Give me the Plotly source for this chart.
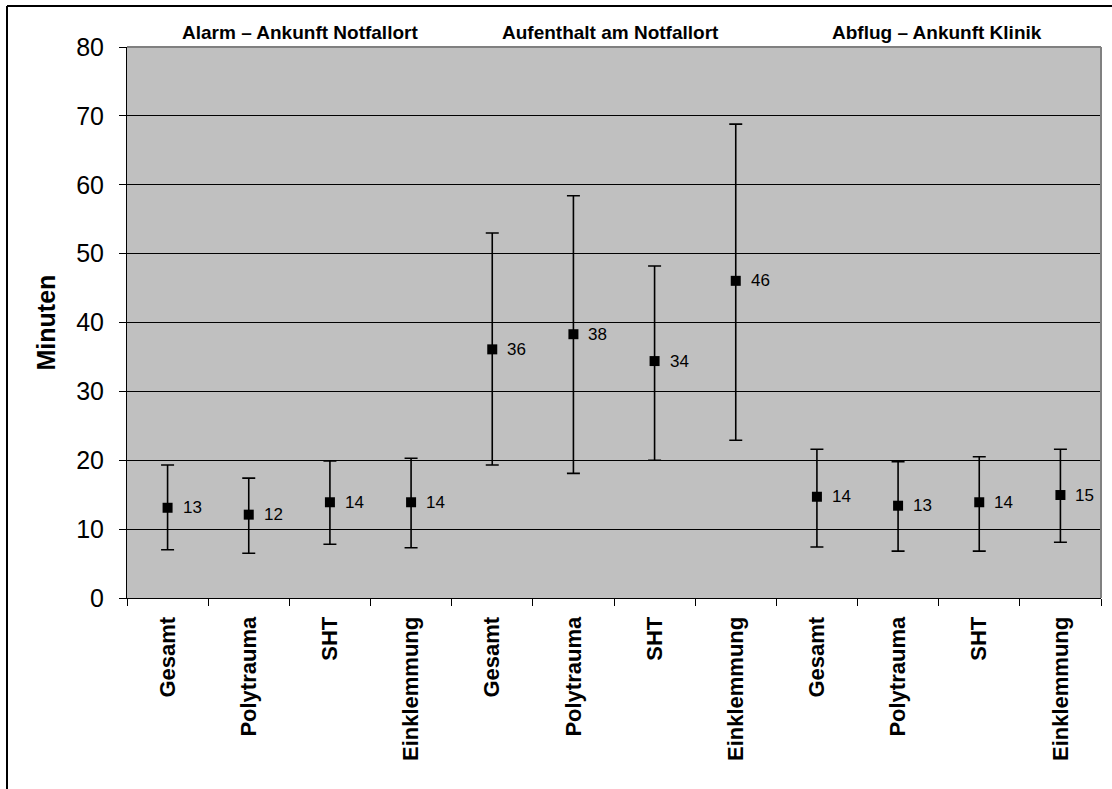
import plotly.graph_objects as go

categories = ["Gesamt", "Polytrauma", "SHT", "Einklemmung",
              "Gesamt", "Polytrauma", "SHT", "Einklemmung",
              "Gesamt", "Polytrauma", "SHT", "Einklemmung"]
means = [13.1, 12.1, 13.9, 13.9, 36.1, 38.3, 34.4, 46.05, 14.7, 13.4, 13.9, 14.95]
upper = [19.3, 17.4, 19.9, 20.3, 53.0, 58.4, 48.2, 68.8, 21.6, 19.8, 20.5, 21.6]
lower = [7.0, 6.5, 7.8, 7.3, 19.3, 18.1, 20.0, 22.9, 7.4, 6.8, 6.8, 8.1]
value_labels = ["13", "12", "14", "14", "36", "38", "34", "46", "14", "13", "14", "15"]
group_titles = ["Alarm – Ankunft Notfallort", "Aufenthalt am Notfallort", "Abflug – Ankunft Klinik"]
y_ticks = [0, 10, 20, 30, 40, 50, 60, 70, 80]

FONT = "Liberation Sans, Arial, sans-serif"
NARROW = "Liberation Sans Narrow, Arial Narrow, Liberation Sans, Arial, sans-serif"

xs = list(range(len(categories)))
err_plus = [u - m for u, m in zip(upper, means)]
err_minus = [m - l for m, l in zip(means, lower)]

fig = go.Figure()
fig.add_trace(go.Scatter(
    x=xs, y=means, mode="markers",
    marker=dict(symbol="square", size=10, color="black"),
    error_y=dict(type="data", symmetric=False, array=err_plus, arrayminus=err_minus,
                 color="black", thickness=1.6, width=6.5),
    showlegend=False, hoverinfo="skip",
))
# invisible trace to host tick marks at category boundaries
fig.add_trace(go.Scatter(x=[-0.5, len(categories) - 0.5], y=[None, None], xaxis="x2",
                         showlegend=False, hoverinfo="skip"))

annotations = []
for x, m, t in zip(xs, means, value_labels):
    annotations.append(dict(x=x, y=m, xref="x", yref="y", text=t, showarrow=False,
                            xanchor="left", yanchor="middle", xshift=13,
                            font=dict(family=NARROW, size=17, color="black")))

n_per_group = 4
for g, title in enumerate(group_titles):
    cx = g * n_per_group + (n_per_group - 1) / 2
    annotations.append(dict(x=cx, y=1, xref="x", yref="paper", text=f"<b>{title}</b>",
                            showarrow=False, xanchor="center", yanchor="middle", yshift=15,
                            xshift=[11, -4, -2][g],
                            font=dict(family=FONT, size=19, color="black")))

annotations.append(dict(x=0, y=0.5, xref="paper", yref="paper", text="<b>Minuten</b>",
                        showarrow=False, textangle=-90, xanchor="center", yanchor="middle",
                        xshift=-82, font=dict(family=FONT, size=25, color="black")))

L, R, T, B = 127, 11, 47, 191
W, H = 1112, 789
pw, ph = W - L - R, H - T - B

shapes = [
    # plot area top/right border (gray)
    dict(type="line", xref="paper", yref="paper", x0=0, x1=1, y0=1, y1=1,
         line=dict(color="#808080", width=2), layer="above"),
    dict(type="line", xref="paper", yref="paper", x0=1, x1=1, y0=0, y1=1,
         line=dict(color="#808080", width=2), layer="above"),
    # outer chart border (top and left)
    dict(type="line", xref="paper", yref="paper", x0=(7 - L) / pw, x1=(W + 5 - L) / pw,
         y0=1 + (T - 6) / ph, y1=1 + (T - 6) / ph, line=dict(color="black", width=2)),
    dict(type="line", xref="paper", yref="paper", x0=(7 - L) / pw, x1=(7 - L) / pw,
         y0=1 + (T - 6) / ph, y1=-(B + 5) / ph, line=dict(color="black", width=2)),
]

fig.update_layout(
    width=W, height=H,
    margin=dict(l=L, r=R, t=T, b=B),
    paper_bgcolor="white", plot_bgcolor="#C0C0C0",
    font=dict(family=FONT, color="black"),
    xaxis=dict(range=[-0.5, len(categories) - 0.5], tickmode="array", tickvals=xs,
               ticktext=[f"<b>{c}</b>" for c in categories], tickangle=-90,
               tickfont=dict(family=FONT, size=22, color="black"),
               ticks="outside", ticklen=8, tickcolor="rgba(0,0,0,0)",
               ticklabelstandoff=1,
               showgrid=False, zeroline=False, showline=True, linecolor="black", linewidth=1),
    xaxis2=dict(range=[-0.5, len(categories) - 0.5], overlaying="x", side="bottom",
                anchor="y", tickmode="array",
                tickvals=[i - 0.5 for i in range(len(categories) + 1)],
                showticklabels=False, ticks="outside", ticklen=7, tickcolor="black",
                tickwidth=1, showgrid=False, zeroline=False, showline=False),
    yaxis=dict(range=[0, 80], tickmode="array", tickvals=y_ticks,
               tickfont=dict(family=FONT, size=25, color="black"),
               ticks="outside", ticklen=7, tickcolor="black", tickwidth=1,
               ticklabelstandoff=10,
               showgrid=True, gridcolor="black", gridwidth=1,
               zeroline=False, showline=True, linecolor="black", linewidth=1),
    annotations=annotations, shapes=shapes,
)

fig.write_html("out.html")
